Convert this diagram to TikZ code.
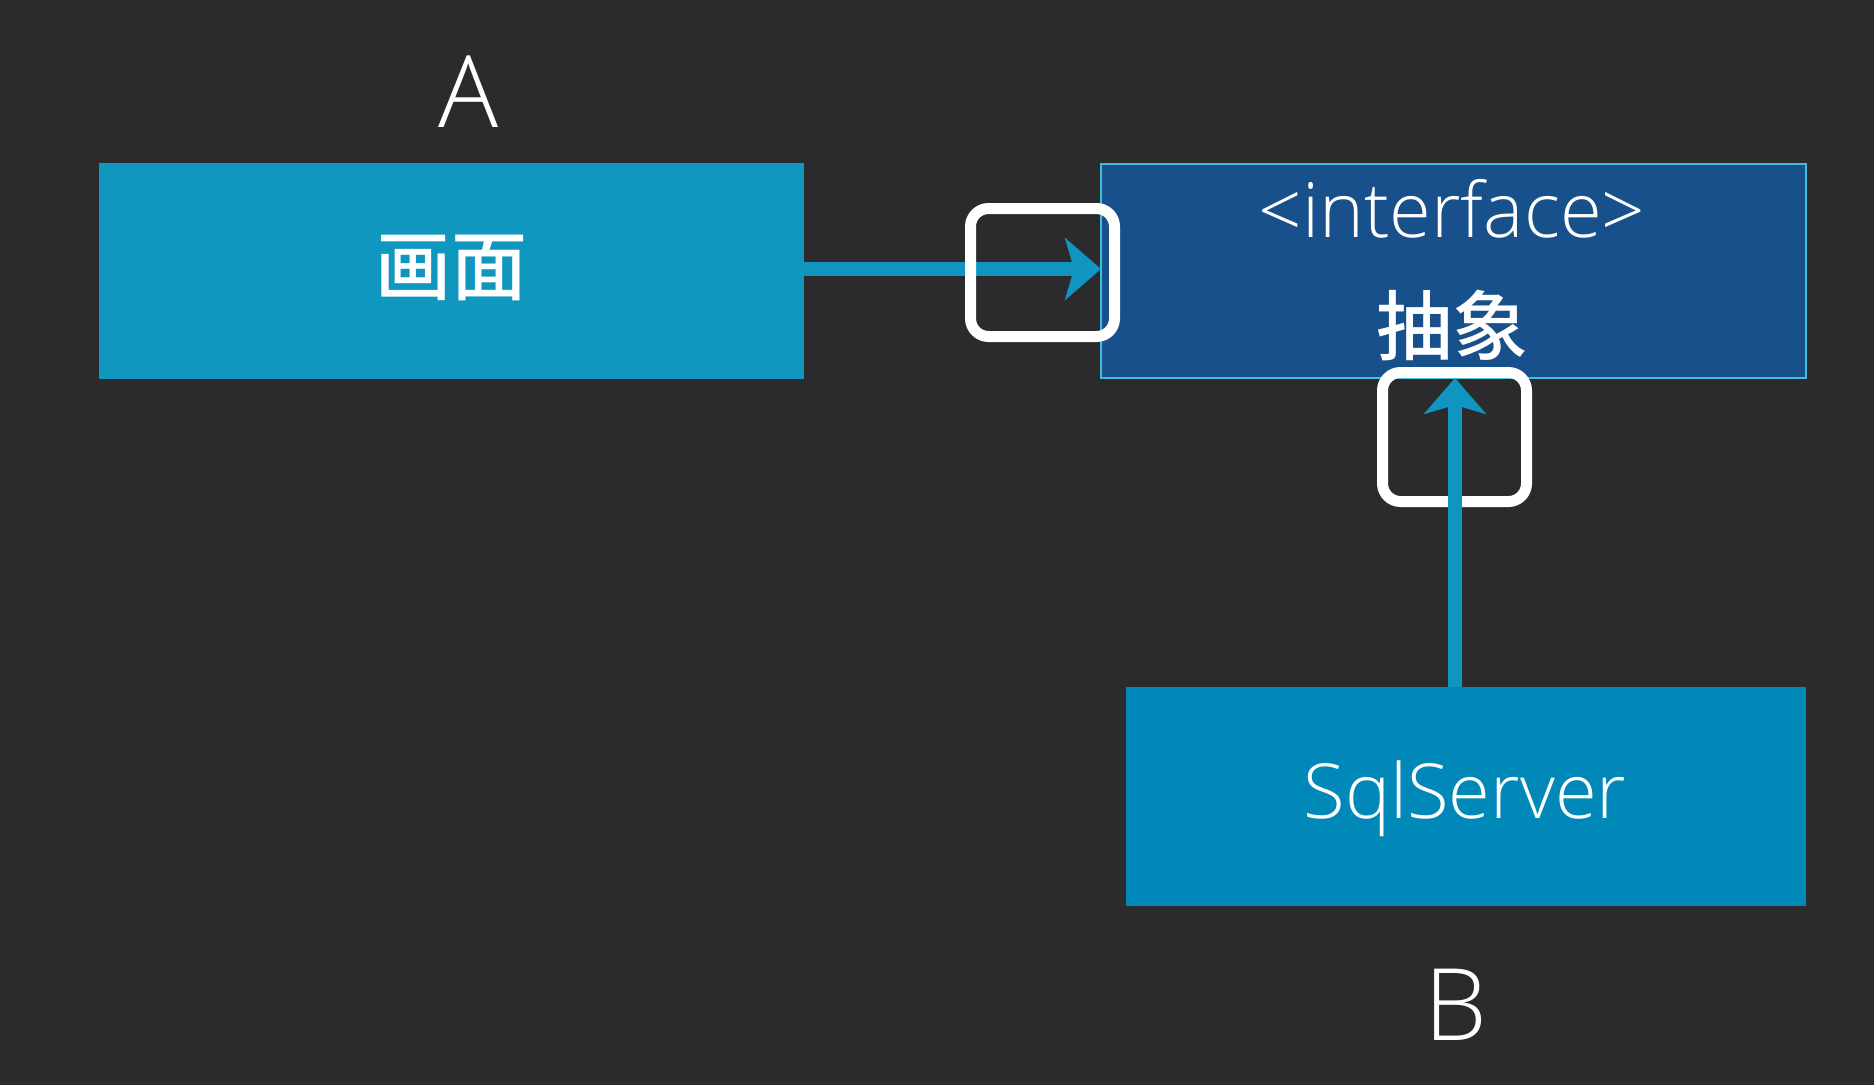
\documentclass[tikz,border=0pt]{standalone}
\usepackage{fontspec}
\setmainfont{Open Sans}[UprightFont=* Light]
\newfontfamily\cjk{Noto Sans CJK SC}[UprightFont=* Medium]
\usetikzlibrary{arrows.meta}
\definecolor{bg}{HTML}{2B2B2D}
\definecolor{boxa}{HTML}{0F97BF}
\definecolor{boxb}{HTML}{0088B8}
\definecolor{boxi}{HTML}{17508A}
\definecolor{edgei}{HTML}{40C0D8}
\definecolor{arr}{HTML}{0F95C0}
\tikzset{
  box/.style={rectangle, inner sep=0pt, outer sep=0pt},
  lbl/.style={text=white, inner sep=0pt, anchor=base},
  big/.style={text=white, inner sep=0pt, font=\fontsize{100}{110}\selectfont},
  cjklbl/.style={text=white, inner sep=0pt, font=\cjk\fontsize{76}{80}\selectfont},
  conn/.style={draw=arr, line width=14pt, -{Stealth[length=36pt,width=62pt,inset=9pt]}},
  hl/.style={rectangle, draw=white, line width=11pt, rounded corners=18pt, inner sep=0pt, minimum width=144pt}
}
\begin{document}
\begin{tikzpicture}[x=1pt,y=-1pt]
\useasboundingbox[fill=bg] (0,0) rectangle (1874,1085);
% boxes
\node[box, fill=boxa, minimum width=705pt, minimum height=216pt] (scr) at (451.5,271) {};
\node[box, fill=boxi, draw=edgei, line width=2pt, minimum width=705pt, minimum height=214pt] (iface) at (1453.5,271) {};
\node[box, fill=boxb, minimum width=680pt, minimum height=219pt] (sql) at (1466,796.5) {};
% labels
\node[big] (la) at (468,92) {A};
\node[big] (lb) at (1456,1005) {B};
\node[cjklbl] (tscr) at (451,268) {画面};
\node[lbl, font=\fontsize{76}{84}\selectfont] (tint) at (1452,237) {<interface>};
\node[cjklbl] (tabs) at (1452,325) {抽象};
\node[lbl, font=\fontsize{76}{84}\selectfont] (tsql) at (1465,818) {SqlServer};
% horizontal connector
\draw[conn] ([yshift=2pt]scr.east) -- ([yshift=2pt]iface.west);
% highlight boxes
\node[hl, minimum height=128pt] (h1) at (1042.5,272.5) {};
\node[hl, minimum height=129pt] (h2) at (1454.5,437) {};
% vertical connector
\coordinate (vx) at (1455,0);
\draw[conn] (sql.north -| vx) -- (iface.south -| vx);
\end{tikzpicture}
\end{document}
